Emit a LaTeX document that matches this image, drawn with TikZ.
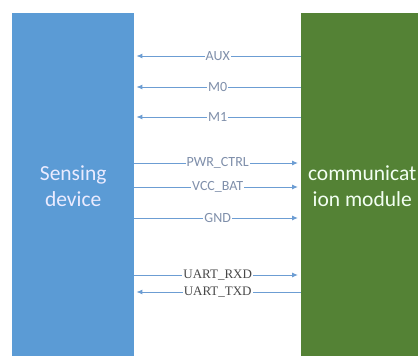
\documentclass[tikz,border=0pt]{standalone}
\usepackage{fontspec}
\setmainfont{Carlito}
\newfontfamily\uartfont{Liberation Serif}
\usetikzlibrary{arrows.meta}
\definecolor{senseblue}{HTML}{5B9BD5}
\definecolor{commgreen}{HTML}{548235}
\definecolor{wireblue}{HTML}{6C9DD3}
\definecolor{labelgray}{HTML}{7F8FAA}
\tikzset{
  block/.style={anchor=north west, minimum width=122pt, minimum height=346pt, inner sep=0pt, align=center, font=\fontsize{21.5}{25.5}\selectfont},
  wire/.style={wireblue, line width=1pt, -{Latex[length=6pt,width=5pt]}},
  sig/.style={midway, fill=white, inner sep=1pt, text=labelgray, font=\fontsize{14}{16}\selectfont},
  uart/.style={sig, text=black!72, font=\uartfont\fontsize{13}{15}\selectfont}
}
\begin{document}
\begin{tikzpicture}[x=1pt,y=1pt]
  \useasboundingbox (0,0) rectangle (418,-356);
  \clip (0,0) rectangle (418,-356);

  % the two blocks
  \node[block, fill=senseblue, text=blue!8] (sense) at (12,-13) {Sensing\\device};
  \node[block, fill=commgreen, text=green!5] (comm) at (301,-13) {communicat\\ion module};

  % comm -> sense
  \draw[wire, shorten >=2pt] (comm.west |- 0,-56) -- (sense.east |- 0,-56) node[sig] {AUX};
  \draw[wire, shorten >=2pt] (comm.west |- 0,-87) -- (sense.east |- 0,-87) node[sig] {M0};
  \draw[wire, shorten >=2pt] (comm.west |- 0,-117) -- (sense.east |- 0,-117) node[sig] {M1};

  % sense -> comm
  \draw[wire, shorten >=3pt] (sense.east |- 0,-163) -- (comm.west |- 0,-163) node[sig] {PWR\_CTRL};
  \draw[wire, shorten >=3pt] (sense.east |- 0,-187) -- (comm.west |- 0,-187) node[sig] {VCC\_BAT};
  \draw[wire, shorten >=3pt] (sense.east |- 0,-218) -- (comm.west |- 0,-218) node[sig] {GND};

  % serial port
  \draw[wire, shorten >=3pt] (sense.east |- 0,-275) -- (comm.west |- 0,-275) node[uart] {UART\_RXD};
  \draw[wire, shorten >=2pt] (comm.west |- 0,-292) -- (sense.east |- 0,-292) node[uart] {UART\_TXD};
\end{tikzpicture}
\end{document}
